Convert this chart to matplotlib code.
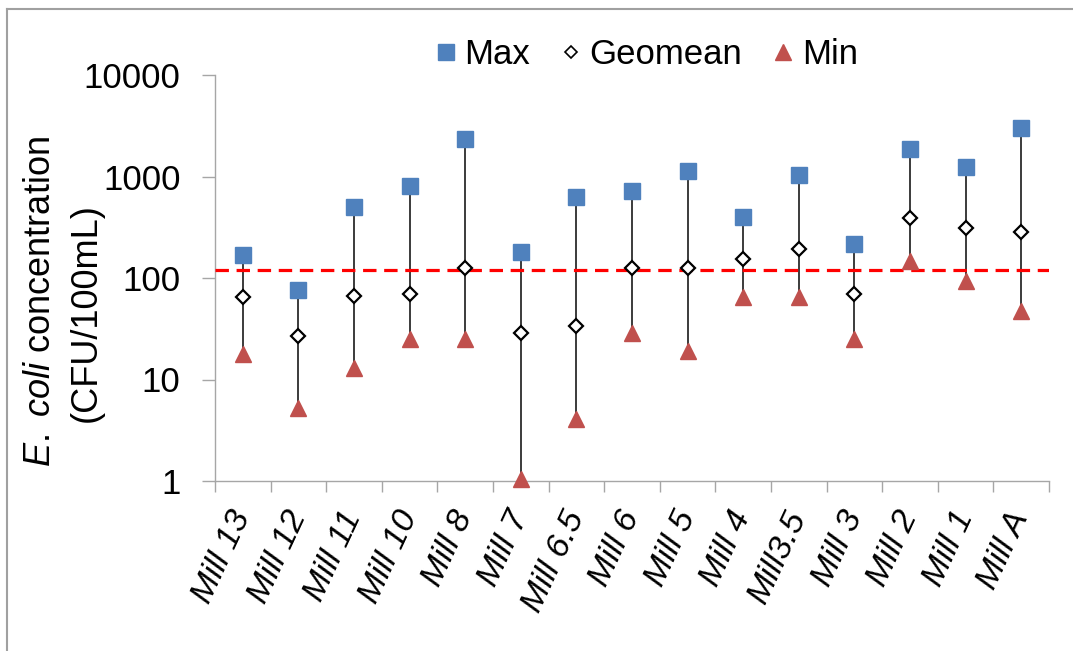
import matplotlib
matplotlib.use("Agg")
import matplotlib.pyplot as plt
import numpy as np
from matplotlib.lines import Line2D
from matplotlib.ticker import FixedLocator, FixedFormatter, NullLocator

plt.rcParams['font.family'] = ['Liberation Sans', 'DejaVu Sans']
plt.rcParams['mathtext.fontset'] = 'custom'
plt.rcParams['mathtext.rm'] = 'Liberation Sans'
plt.rcParams['mathtext.it'] = 'Liberation Sans:italic'

# Sampling sites and E. coli statistics (CFU/100mL)
mills = ['Mill 13', 'Mill 12', 'Mill 11', 'Mill 10', 'Mill 8', 'Mill 7', 'Mill 6.5',
         'Mill 6', 'Mill 5', 'Mill 4', 'Mill3.5', 'Mill 3', 'Mill 2', 'Mill 1', 'Mill A']
max_vals = [169, 77, 504, 806, 2324, 182, 632, 724, 1140, 396, 1042, 218, 1879, 1233, 2985]
geomean_vals = [65, 27, 67, 70, 125, 29, 34, 125, 125, 153, 192, 70, 393, 313, 282]
min_vals = [18, 5.2, 13, 25, 25, 1.05, 4.1, 29, 19, 65, 65, 25, 146, 93, 47]
standard = 121
y_ticks = [1, 10, 100, 1000, 10000]
y_tick_labels = ['1', '10', '100', '1000', '10000']

BLUE = '#4F81BD'
RED = '#C0504D'
AXIS_GRAY = '#A6A6A6'

fig = plt.figure(figsize=(10.73, 6.51), dpi=100)
ax = fig.add_axes([215 / 1073, 1 - 481 / 651, (1049 - 215) / 1073, (481 - 75) / 651])

x = np.arange(len(mills))

# range bars from min to max
ax.vlines(x, min_vals, max_vals, color='#1a1a1a', lw=1.2, zorder=2)

# recreational water standard
ax.axhline(standard, color='#FF0000', lw=2.3, dashes=(4.2, 2.4), zorder=3)

ax.plot(x, max_vals, ls='none', marker='s', ms=12.2, mfc=BLUE, mec=BLUE, zorder=4, clip_on=False)
ax.plot(x, geomean_vals, ls='none', marker='D', ms=7.0, mfc='white', mec='black', mew=1.6,
        zorder=5, clip_on=False)
ax.plot(x, min_vals, ls='none', marker='^', ms=11.5, mfc=RED, mec=RED, zorder=4, clip_on=False)

ax.set_yscale('log')
ax.set_ylim(1, 10000)
ax.set_xlim(-0.5, len(mills) - 0.5)

ax.yaxis.set_major_locator(FixedLocator(y_ticks))
ax.yaxis.set_major_formatter(FixedFormatter(y_tick_labels))
ax.yaxis.set_minor_locator(NullLocator())
ax.tick_params(axis='y', which='major', direction='out', length=9.4, width=1.0,
               color=AXIS_GRAY, labelsize=25, pad=15.5)

# category labels at centres, tick marks at category boundaries
ax.set_xticks(x)
ax.set_xticklabels(mills, rotation=65, ha='right', va='center', rotation_mode='anchor',
                   fontsize=24.5, fontstyle='italic')
ax.set_xticks(np.arange(-0.5, len(mills)), minor=True)
ax.tick_params(axis='x', which='major', length=0, pad=23)
ax.tick_params(axis='x', which='minor', direction='out', length=8, width=1.0, color=AXIS_GRAY)

for side in ('top', 'right'):
    ax.spines[side].set_visible(False)
for side in ('left', 'bottom'):
    ax.spines[side].set_color(AXIS_GRAY)
    ax.spines[side].set_linewidth(1.0)

# y-axis title on two lines
fig.text(41 / 1073, 1 - 302 / 651, r'$\it{E.\ coli}$ concentration', rotation=90,
         ha='center', va='center', fontsize=26)
fig.text(86 / 1073, 1 - 313 / 651, '(CFU/100mL)', rotation=90,
         ha='center', va='center', fontsize=26)

handles = [
    Line2D([], [], ls='none', marker='s', ms=11, mfc=BLUE, mec=BLUE),
    Line2D([], [], ls='none', marker='D', ms=6.5, mfc='white', mec='black', mew=1.2),
    Line2D([], [], ls='none', marker='^', ms=11, mfc=RED, mec=RED),
]
fig.legend(handles, ['Max', 'Geomean', 'Min'], loc='center', bbox_to_anchor=(0.601, 1 - 55 / 651),
           ncol=3, frameon=False, fontsize=25, handlelength=0.8, handletextpad=0.14,
           columnspacing=0.77, borderpad=0)

# outer chart frame
fig.add_artist(Line2D([7 / 1073, 7 / 1073], [0, 1 - 9 / 651], transform=fig.transFigure,
                      color='#A0A0A0', lw=1.5))
fig.add_artist(Line2D([7 / 1073, 1], [1 - 9 / 651, 1 - 9 / 651], transform=fig.transFigure,
                      color='#A0A0A0', lw=1.5))

fig.savefig('out.png', dpi=100)
